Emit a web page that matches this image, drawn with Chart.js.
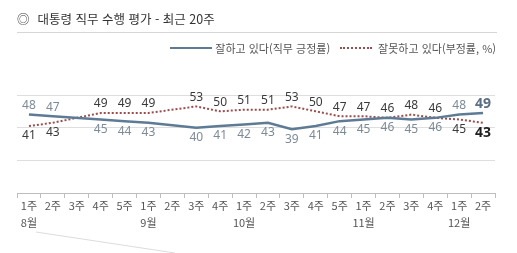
<!DOCTYPE html>
<html lang="ko">
<head>
    <meta charset="UTF-8">
    <title>대통령 직무 수행 평가 - 최근 20주</title>
    <script src="https://cdn.jsdelivr.net/npm/chart.js"></script>
    <style>
        body {
            margin: 0;
            background: #fff;
            font-family: "Noto Sans CJK KR", "Noto Sans", sans-serif;
        }
        .wrapper {
            position: relative;
            width: 517px;
            height: 253px;
            overflow: hidden;
        }
        .wrapper canvas {
            position: absolute;
            left: 0;
            top: 0;
        }
        .title {
            position: absolute;
            left: 17px;
            top: 9px;
            font-size: 12.5px;
            color: #333;
            white-space: nowrap;
        }
        .title .mark {
            margin-right: 8px;
        }
        .rule {
            position: absolute;
            left: 17px;
            top: 32px;
            width: 480px;
            border-top: 1px solid #d6d6d6;
        }
        .legend {
            position: absolute;
            right: 21px;
            top: 40px;
            font-size: 11px;
            color: #555;
            white-space: nowrap;
            display: flex;
            align-items: center;
        }
        .legend .swatch {
            display: inline-block;
            width: 42px;
            height: 0;
            margin-right: 3px;
        }
        .legend .pos { border-top: 2px solid #5e7b96; }
        .legend .neg { border-top: 2px dotted #9a4d4d; width: 32px; margin-left: 10px; margin-right: 6px; }
    </style>
</head>
<body>
    <div class="wrapper">
        <canvas id="approvalChart" width="517" height="253"></canvas>
        <div class="title"><span class="mark">◎</span>대통령 직무 수행 평가 - 최근 20주</div>
        <div class="rule"></div>
        <div class="legend">
            <span class="swatch pos"></span>잘하고 있다(직무 긍정률)
            <span class="swatch neg"></span>잘못하고 있다(부정률, %)
        </div>
    </div>

    <script>
        // weeks (first line) and month under the first week of each month
        const weeks = ['1주', '2주', '3주', '4주', '5주', '1주', '2주', '3주', '4주', '1주',
                       '2주', '3주', '4주', '5주', '1주', '2주', '3주', '4주', '1주', '2주'];
        const months = ['8월', '', '', '', '', '9월', '', '', '', '10월',
                        '', '', '', '', '11월', '', '', '', '12월', ''];
        // no survey in 8월 3주 and 9월 2주
        const positive = [48, 47, null, 45, 44, 43, null, 40, 41, 42, 43, 39, 41, 44, 45, 46, 45, 46, 48, 49];
        const negative = [41, 43, null, 49, 49, 49, null, 53, 50, 51, 51, 53, 50, 47, 47, 46, 48, 46, 45, 43];
        const yTicks = [0, 20, 40, 60];

        const labels = weeks.map((w, i) => [w, months[i]]);

        // value labels: higher one above the point, lower one below
        const valueLabels = {
            id: 'valueLabels',
            afterDatasetsDraw(chart) {
                const ctx = chart.ctx;
                const last = positive.length - 1;
                ctx.save();
                ctx.textAlign = 'center';
                ctx.textBaseline = 'middle';
                chart.data.datasets.forEach((ds, di) => {
                    const meta = chart.getDatasetMeta(di);
                    const other = chart.data.datasets[1 - di].data;
                    meta.data.forEach((pt, i) => {
                        const v = ds.data[i];
                        if (v === null) return;
                        let above = v > other[i] || (v === other[i] && di === 1);
                        const isLast = i === last;
                        ctx.font = (isLast ? 'bold 14px ' : '12px ') + '"Noto Sans", "DejaVu Sans", sans-serif';
                        if (di === 0) {
                            ctx.fillStyle = isLast ? '#5a6f83' : '#7d8a97';
                        } else {
                            ctx.fillStyle = isLast ? '#1e1e1e' : '#3a3a3a';
                        }
                        const y = above ? pt.y - 9 : pt.y + 10;
                        ctx.fillText(String(v), pt.x, y);
                    });
                });
                ctx.restore();
            }
        };

        // faint leader line under the x axis
        const leader = {
            id: 'leader',
            afterDraw(chart) {
                const ctx = chart.ctx;
                ctx.save();
                ctx.strokeStyle = '#dcdcdc';
                ctx.lineWidth = 1;
                ctx.beginPath();
                ctx.moveTo(36, 232);
                ctx.lineTo(175, 253);
                ctx.stroke();
                ctx.restore();
            }
        };

        const ctx = document.getElementById('approvalChart').getContext('2d');
        const approvalChart = new Chart(ctx, {
            type: 'line',
            data: {
                labels: labels,
                datasets: [{
                    label: '잘하고 있다(직무 긍정률)',
                    data: positive,
                    borderColor: '#5e7b96',
                    borderWidth: 2.5,
                    pointRadius: 0,
                    tension: 0,
                    spanGaps: true,
                    fill: false
                }, {
                    label: '잘못하고 있다(부정률, %)',
                    data: negative,
                    borderColor: '#9a4d4d',
                    borderWidth: 2,
                    borderDash: [2, 2],
                    pointRadius: 0,
                    tension: 0,
                    spanGaps: true,
                    fill: false
                }]
            },
            options: {
                responsive: false,
                animation: false,
                events: [],
                clip: false,
                layout: {
                    padding: { top: 95, left: 17, right: 22, bottom: 22 }
                },
                scales: {
                    x: {
                        offset: true,
                        grid: {
                            offset: true,
                            drawOnChartArea: false,
                            tickLength: 5,
                            color: '#bdbdbd'
                        },
                        border: { color: '#bdbdbd' },
                        ticks: {
                            color: '#555',
                            padding: 0,
                            maxRotation: 0,
                            autoSkip: false,
                            font: { size: 11, family: '"Noto Sans CJK KR", sans-serif', lineHeight: 1.5 }
                        }
                    },
                    y: {
                        min: yTicks[0],
                        max: yTicks[yTicks.length - 1],
                        afterBuildTicks: s => { s.ticks = yTicks.map(v => ({ value: v })); },
                        afterFit: s => { s.width = 0; },
                        grid: { color: '#dedede', drawTicks: false },
                        border: { display: false },
                        ticks: { display: false }
                    }
                },
                plugins: {
                    legend: { display: false },
                    title: { display: false },
                    tooltip: { enabled: false }
                }
            },
            plugins: [valueLabels, leader]
        });
    </script>
</body>
</html>
